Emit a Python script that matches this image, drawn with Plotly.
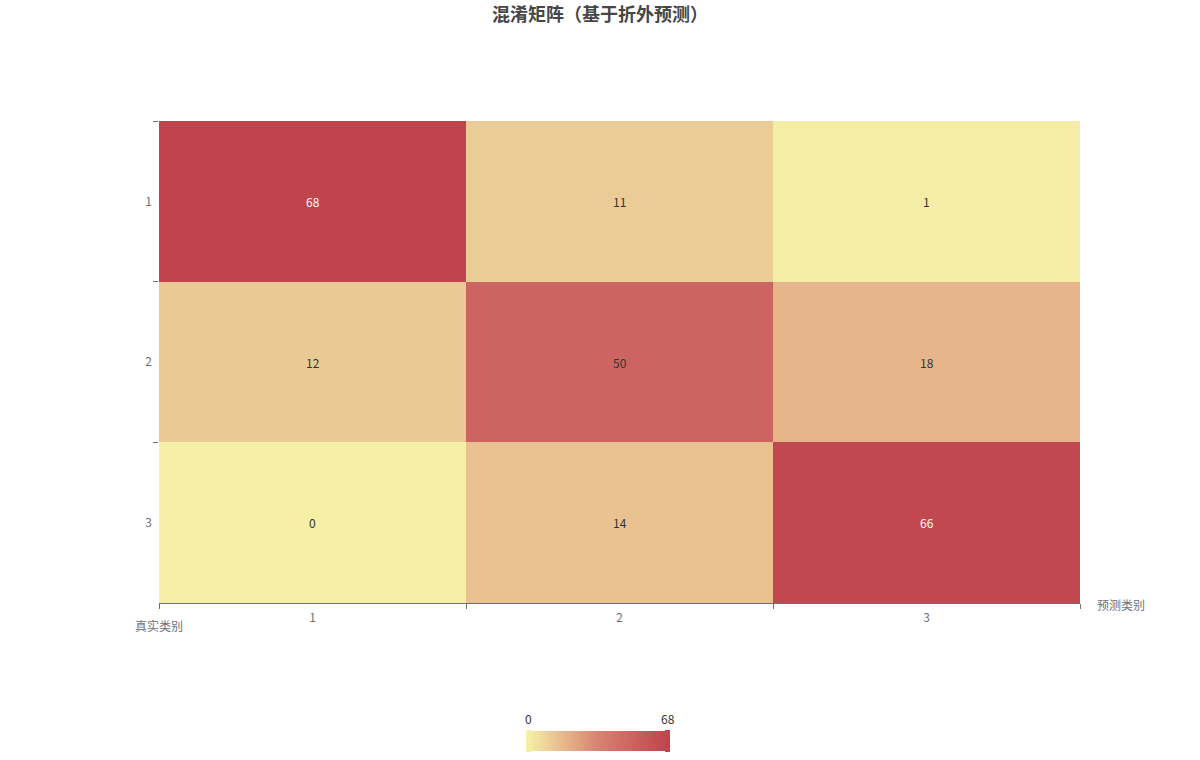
import plotly.graph_objects as go

categories = ["1", "2", "3"]
true_labels = ["1", "2", "3"]
matrix = [
    [68, 11, 1],
    [12, 50, 18],
    [0, 14, 66],
]
title_text = "混淆矩阵（基于折外预测）"
x_name = "预测类别"
y_name = "真实类别"

FONT = "Noto Sans CJK SC, Noto Sans, sans-serif"
colorscale = [[0.0, "#f6efa6"], [0.5, "#d88273"], [1.0, "#bf444c"]]
vmin = min(min(r) for r in matrix)
vmax = max(max(r) for r in matrix)

fig = go.Figure()
fig.add_trace(go.Heatmap(
    x=categories, y=true_labels, z=matrix,
    colorscale=colorscale, zmin=vmin, zmax=vmax,
    xgap=0, ygap=0,
    hoverinfo="x+y+z",
    colorbar=dict(
        orientation="h", x=(598 - 159) / 921, xanchor="center",
        y=(603 - 741) / 482, yanchor="middle",
        lenmode="pixels", len=140, thickness=20, outlinewidth=0,
        xpad=0, ypad=0,
        showticklabels=False, ticks="",
    ),
))

annotations = []
for i, yl in enumerate(true_labels):
    for j, xl in enumerate(categories):
        v = matrix[i][j]
        col = "#ffffff" if v / vmax > 0.9 else "#333333"
        annotations.append(dict(x=j, y=i, text=str(v), showarrow=False,
                                font=dict(size=12, color=col, family=FONT)))

annotations += [
    dict(xref="paper", yref="paper", x=0.0, y=(603 - 625) / 482, text=y_name, showarrow=False,
         xanchor="center", yanchor="middle", font=dict(size=12, color="#6e7079", family=FONT)),
    dict(xref="paper", yref="paper", x=(1095 - 159) / 921, y=(603 - 604) / 482, text=x_name,
         showarrow=False, xanchor="left", yanchor="middle",
         font=dict(size=12, color="#6e7079", family=FONT)),
    dict(xref="paper", yref="paper", x=(528 - 159) / 921, y=(603 - 718) / 482, text=str(vmin),
         showarrow=False, xanchor="center", yanchor="middle",
         font=dict(size=12, color="#333333", family=FONT)),
    dict(xref="paper", yref="paper", x=(668 - 159) / 921, y=(603 - 718) / 482, text=str(vmax),
         showarrow=False, xanchor="center", yanchor="middle",
         font=dict(size=12, color="#333333", family=FONT)),
]

# visualMap end handles
def px_x(p):
    return (p - 159) / 921

def px_y(p):
    return (603 - p) / 482

shapes = [
    dict(type="rect", xref="paper", yref="paper",
         x0=px_x(526), x1=px_x(531), y0=px_y(752), y1=px_y(730),
         fillcolor="#f6efa6", line=dict(width=0)),
    dict(type="rect", xref="paper", yref="paper",
         x0=px_x(665), x1=px_x(670), y0=px_y(752), y1=px_y(730),
         fillcolor="#bf444c", line=dict(width=0)),
]

fig.update_layout(
    width=1200, height=760,
    margin=dict(l=159, r=120, t=121, b=157, autoexpand=False),
    paper_bgcolor="white", plot_bgcolor="white",
    title=dict(text=f"<b>{title_text}</b>", x=0.5, xanchor="center",
               y=1 - 15 / 760, yanchor="middle",
               font=dict(size=18, color="#464646", family=FONT)),
    font=dict(family=FONT, size=12, color="#6e7079"),
    annotations=annotations,
    shapes=shapes,
    xaxis=dict(type="category", range=[-0.5, len(categories) - 0.5], autorange=False,
               showgrid=False, zeroline=False, showline=True,
               linecolor="#6e7079", linewidth=1, ticks="outside", tickson="boundaries",
               ticklen=5, tickcolor="#6e7079", tickfont=dict(size=12, color="#6e7079"),
               ticklabelstandoff=4, fixedrange=True),
    yaxis=dict(type="category", range=[len(true_labels) - 0.5, -0.5], autorange=False,
               showgrid=False, zeroline=False,
               showline=False, ticks="outside", tickson="boundaries", ticklen=5,
               tickcolor="#6e7079", tickfont=dict(size=12, color="#6e7079"),
               ticklabelstandoff=6, fixedrange=True),
)

fig.write_html("out.html")
